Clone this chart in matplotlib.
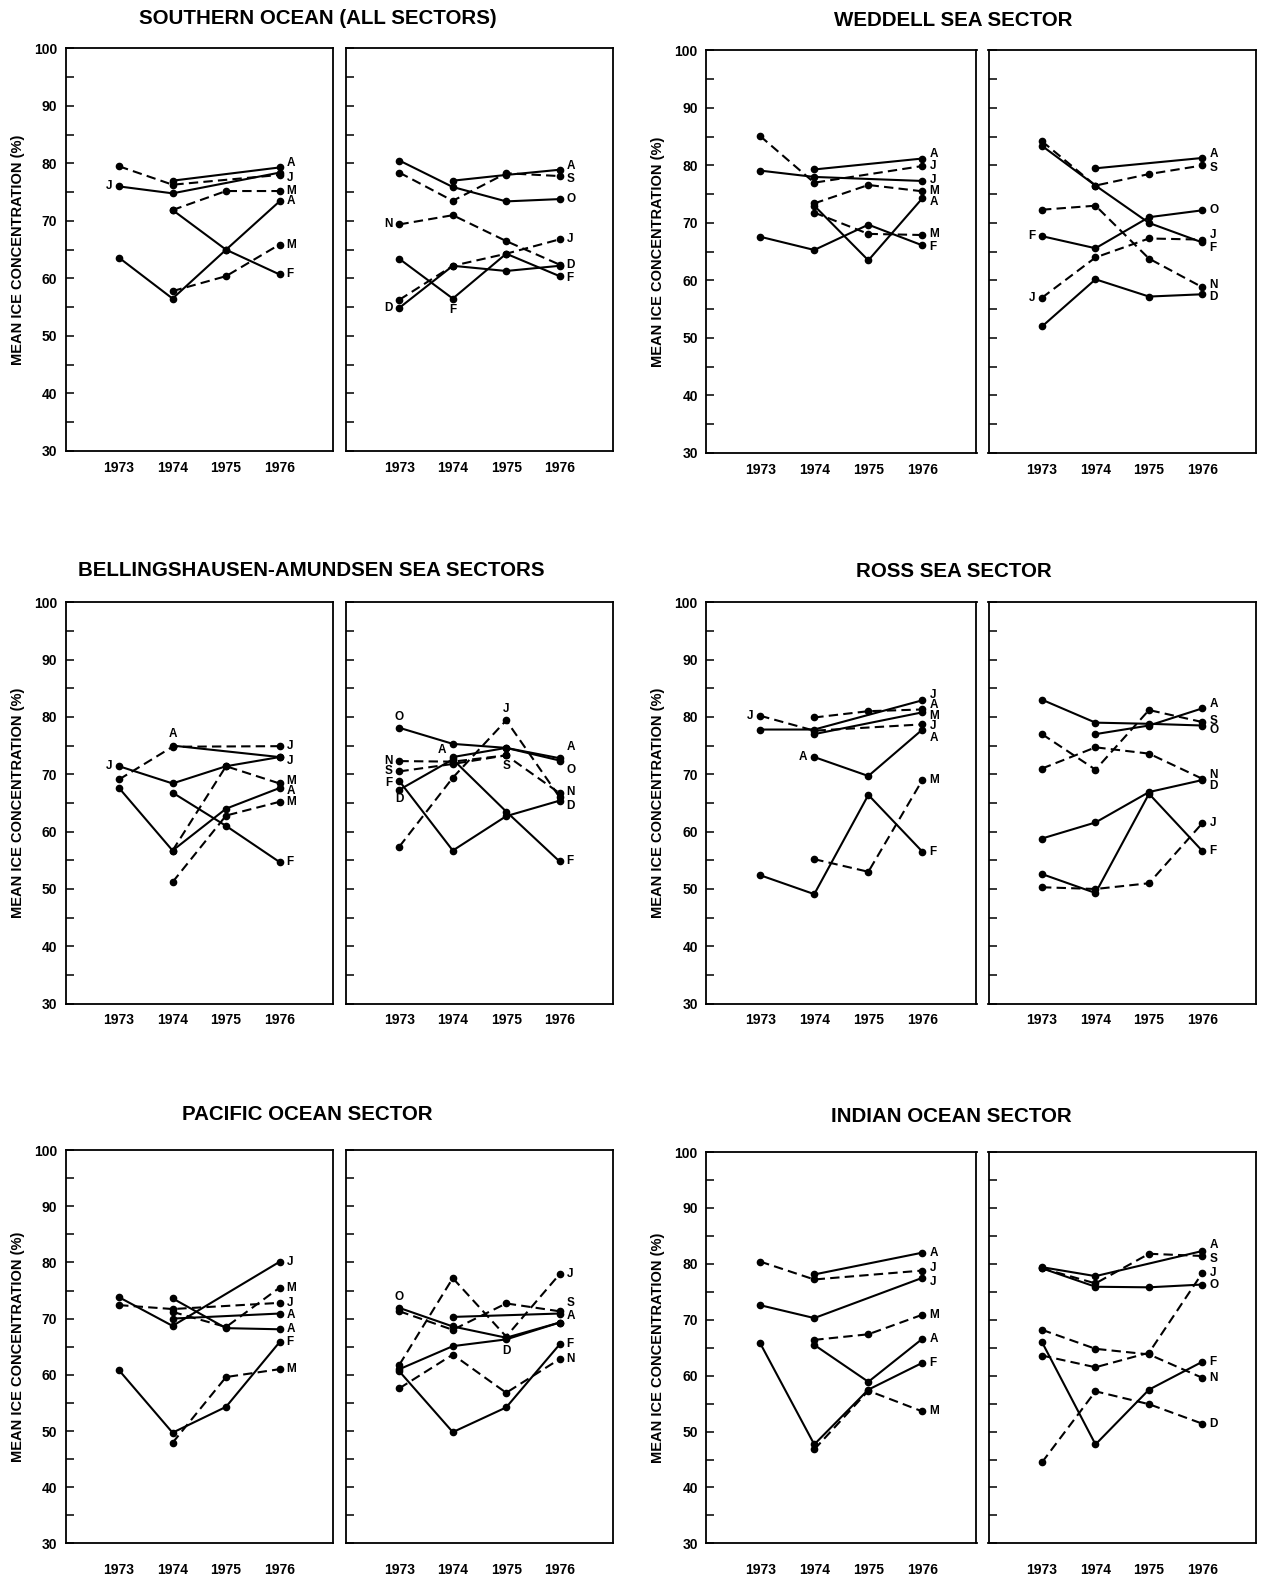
import numpy as np
import matplotlib
matplotlib.use("Agg")
import matplotlib.pyplot as plt

plt.rcParams["font.family"] = ["Liberation Sans", "DejaVu Sans"]

nan = np.nan
YEARS = [1973, 1974, 1975, 1976]
W, H = 1269, 1582

# each panel: rows = monthly series (mean ice concentration, %), dashed flags,
# letter labels as (series, year index, text, dx pt, dy pt)

# --- Southern Ocean (all sectors)
SO_JAN = [[79.5, 76.3, nan, 78.0], [nan, 77.0, nan, 79.3], [76.0, 74.8, nan, 78.4],
          [nan, 71.9, 75.2, 75.2], [nan, 71.9, 65.0, 60.7], [63.6, 56.5, 65.0, 73.4],
          [nan, 57.8, 60.4, 65.9]]
SO_JAN_DASH = [1, 0, 0, 1, 0, 0, 1]
SO_JAN_LAB = [(1, 3, "A", 5, 3), (0, 3, "J", 5, -2), (2, 0, "J", -5, 0), (3, 3, "M", 5, 0),
              (5, 3, "A", 5, 0), (6, 3, "M", 5, 0), (4, 3, "F", 5, 0)]
SO_JUL = [[80.5, 75.9, 73.4, 73.8], [78.4, 73.5, 78.3, 77.8], [nan, 77.0, 78.0, 78.9],
          [69.4, 71.0, 66.5, 62.4], [63.4, 56.5, 64.3, 60.4], [56.3, 62.2, 64.3, 66.8],
          [54.9, 62.2, 61.3, 62.2]]
SO_JUL_DASH = [0, 1, 0, 1, 0, 1, 0]
SO_JUL_LAB = [(2, 3, "A", 5, 3), (1, 3, "S", 5, -2), (0, 3, "O", 5, 0), (5, 3, "J", 5, 0),
              (3, 3, "D", 5, 0), (4, 3, "F", 5, -1), (3, 0, "N", -5, 0), (6, 0, "D", -5, 0),
              (4, 1, "F", 0, -8)]

# --- Weddell Sea sector
WS_JAN = [[85.1, 77.0, nan, 79.9], [nan, 79.3, nan, 81.2], [79.1, 78.0, nan, 77.3],
          [nan, 73.4, 76.6, 75.5], [nan, 73.0, 63.5, 74.3], [nan, 71.8, 68.1, 67.9],
          [67.6, 65.3, 69.7, 66.1]]
WS_JAN_DASH = [1, 0, 0, 1, 0, 1, 0]
WS_JAN_LAB = [(1, 3, "A", 5, 3), (0, 3, "J", 5, 0), (2, 3, "J", 5, 1), (3, 3, "M", 5, 0),
              (4, 3, "A", 5, -3), (5, 3, "M", 5, 1), (6, 3, "F", 5, -1)]
WS_JUL = [[83.4, 76.5, 70.0, 66.6], [84.2, 76.5, 78.5, 80.0], [nan, 79.5, nan, 81.3],
          [67.7, 65.6, 71.0, 72.2], [72.3, 73.0, 63.8, 58.8], [52.0, 60.2, 57.2, 57.6],
          [57.0, 64.0, 67.3, 67.1]]
WS_JUL_DASH = [0, 1, 0, 0, 1, 0, 1]
WS_JUL_LAB = [(2, 3, "A", 5, 3), (1, 3, "S", 5, -2), (3, 3, "O", 5, 0), (6, 3, "J", 5, 3),
              (0, 3, "F", 5, -4), (4, 3, "N", 5, 2), (5, 3, "D", 5, -2), (3, 0, "F", -5, 0),
              (6, 0, "J", -5, 0)]

# --- Bellingshausen-Amundsen Sea sectors
BA_JAN = [[69.1, 74.8, nan, 74.9], [nan, 75.0, nan, 73.0], [71.4, 68.4, 71.4, 73.0],
          [nan, 56.7, 71.4, 68.4], [67.6, 56.7, 64.0, 67.6], [nan, 66.8, 61.0, 54.7],
          [nan, 51.2, 62.8, 65.2]]
BA_JAN_DASH = [1, 0, 0, 1, 0, 0, 1]
BA_JAN_LAB = [(0, 3, "J", 5, 0), (2, 3, "J", 5, -3), (3, 3, "M", 5, 2), (4, 3, "A", 5, -2),
              (6, 3, "M", 5, 0), (5, 3, "F", 5, 0), (2, 0, "J", -5, 0), (1, 1, "A", 0, 8)]
BA_JUL = [[78.1, 75.3, 74.6, 72.4], [nan, 73.0, 74.6, 72.8], [72.3, 72.2, 73.3, 66.7],
          [70.5, 71.8, 73.3, nan], [57.4, 69.4, 79.4, 66.0], [68.8, 56.7, 62.7, 65.4],
          [67.3, 72.6, 63.5, 54.8]]
BA_JUL_DASH = [0, 0, 1, 1, 1, 0, 0]
BA_JUL_LAB = [(1, 3, "A", 5, 8), (0, 3, "O", 5, -7), (2, 3, "N", 5, 1), (5, 3, "D", 5, -4),
              (6, 3, "F", 5, 0), (0, 0, "O", 0, 8), (2, 0, "N", -5, 0), (3, 0, "S", -5, 0),
              (5, 0, "F", -5, -1), (6, 0, "D", 0, -7), (1, 1, "A", -5, 5), (4, 2, "J", 0, 8),
              (3, 2, "S", 0, -8)]

# --- Ross Sea sector
RS_JAN = [[80.2, 77.6, nan, 78.7], [77.8, 77.8, nan, 82.9], [nan, 79.9, 81.0, 81.3],
          [nan, 77.0, nan, 80.8], [nan, 73.0, 69.7, 77.8], [52.4, 49.1, 66.4, 56.5],
          [nan, 55.2, 53.0, 69.0]]
RS_JAN_DASH = [1, 0, 1, 0, 0, 0, 1]
RS_JAN_LAB = [(1, 3, "J", 5, 4), (2, 3, "A", 5, 3), (3, 3, "M", 5, -3), (0, 3, "J", 5, -1),
              (4, 3, "A", 5, -6), (5, 3, "F", 5, 0), (6, 3, "M", 5, 0), (0, 0, "J", -5, 0),
              (4, 1, "A", -5, 0)]
RS_JUL = [[83.0, 79.0, 78.8, 78.5], [nan, 77.0, 78.5, 81.5], [77.0, 70.8, 81.2, 79.1],
          [71.0, 74.7, 73.6, 69.2], [58.8, 61.6, 66.9, 69.0], [52.6, 49.3, 66.6, 56.6],
          [50.3, 50.0, 51.0, 61.5]]
RS_JUL_DASH = [0, 0, 1, 1, 0, 0, 1]
RS_JUL_LAB = [(1, 3, "A", 5, 3), (2, 3, "S", 5, 1), (0, 3, "O", 5, -3), (3, 3, "N", 5, 3),
              (4, 3, "D", 5, -4), (6, 3, "J", 5, 0), (5, 3, "F", 5, 0)]

# --- Pacific Ocean sector
PO_JAN = [[73.8, 68.7, nan, 80.1], [72.4, 71.7, nan, 72.8], [nan, 73.6, 68.3, 68.1],
          [nan, 70.0, nan, 70.9], [nan, 71.2, 68.5, 75.5], [60.8, 49.7, 54.3, 65.8],
          [nan, 47.9, 59.6, 61.0]]
PO_JAN_DASH = [0, 1, 0, 0, 1, 0, 1]
PO_JAN_LAB = [(0, 3, "J", 5, 0), (4, 3, "M", 5, 0), (1, 3, "J", 5, 0), (3, 3, "A", 5, -1),
              (2, 3, "A", 5, 0), (5, 3, "F", 5, 0), (6, 3, "M", 5, 0)]
PO_JUL = [[61.8, 77.2, 66.8, 77.9], [71.9, 68.6, 66.6, 69.3], [71.3, 68.0, 72.7, 71.3],
          [nan, 70.3, nan, 70.9], [61.0, 65.1, 66.3, 69.3], [57.6, 63.6, 56.8, 62.8],
          [60.6, 49.8, 54.2, 65.4]]
PO_JUL_DASH = [1, 0, 1, 0, 0, 1, 0]
PO_JUL_LAB = [(0, 3, "J", 5, 0), (2, 3, "S", 5, 6), (3, 3, "A", 5, -2), (6, 3, "F", 5, 0),
              (5, 3, "N", 5, 0), (4, 2, "D", 0, -8), (1, 0, "O", 0, 8)]

# --- Indian Ocean sector
IO_JAN = [[80.4, 77.2, nan, 78.8], [nan, 78.1, nan, 82.0], [72.6, 70.3, nan, 77.5],
          [nan, 66.4, 67.4, 70.9], [nan, 65.5, 58.9, 66.6], [65.8, 47.7, 57.5, 62.3],
          [nan, 46.8, 57.3, 53.6]]
IO_JAN_DASH = [1, 0, 0, 1, 0, 0, 1]
IO_JAN_LAB = [(1, 3, "A", 5, 0), (0, 3, "J", 5, 2), (2, 3, "J", 5, -3), (3, 3, "M", 5, 0),
              (4, 3, "A", 5, 0), (5, 3, "F", 5, 0), (6, 3, "M", 5, 0)]
IO_JUL = [[79.4, 77.8, nan, 82.3], [79.2, 76.5, 81.8, 81.4], [79.2, 75.9, 75.8, 76.3],
          [63.6, 61.5, 64.1, 78.4], [68.2, 64.8, 63.8, 59.6], [66.0, 47.7, 57.5, 62.5],
          [44.5, 57.2, 54.9, 51.4]]
IO_JUL_DASH = [0, 1, 0, 1, 1, 0, 1]
IO_JUL_LAB = [(0, 3, "A", 5, 4), (1, 3, "S", 5, -2), (3, 3, "J", 5, 0), (2, 3, "O", 5, 0),
              (5, 3, "F", 5, 0), (4, 3, "N", 5, 0), (6, 3, "D", 5, 0)]

TITLES = ["SOUTHERN OCEAN (ALL SECTORS)", "WEDDELL SEA SECTOR",
          "BELLINGSHAUSEN-AMUNDSEN SEA SECTORS", "ROSS SEA SECTOR",
          "PACIFIC OCEAN SECTOR", "INDIAN OCEAN SECTOR"]
GROUPS = [(SO_JAN, SO_JAN_DASH, SO_JAN_LAB, SO_JUL, SO_JUL_DASH, SO_JUL_LAB),
          (WS_JAN, WS_JAN_DASH, WS_JAN_LAB, WS_JUL, WS_JUL_DASH, WS_JUL_LAB),
          (BA_JAN, BA_JAN_DASH, BA_JAN_LAB, BA_JUL, BA_JUL_DASH, BA_JUL_LAB),
          (RS_JAN, RS_JAN_DASH, RS_JAN_LAB, RS_JUL, RS_JUL_DASH, RS_JUL_LAB),
          (PO_JAN, PO_JAN_DASH, PO_JAN_LAB, PO_JUL, PO_JUL_DASH, PO_JUL_LAB),
          (IO_JAN, IO_JAN_DASH, IO_JAN_LAB, IO_JUL, IO_JUL_DASH, IO_JUL_LAB)]

# layout in pixels: panel x spans per column, (top, bottom) per group, title centres
COL_X = [[(65.6, 333.0), (346.0, 613.0)], [(706.1, 976.5), (988.5, 1256.0)]]
GROUP_Y = [(48.4, 451.0), (50.4, 453.0), (602.2, 1003.7), (602.2, 1003.7),
           (1150.0, 1543.4), (1152.0, 1543.4)]
TITLE_XY = [(318, 18), (953, 20), (311, 571), (954, 572), (307, 1114), (951, 1117)]
XPAD = [7, 7, 7, 7, 14, 14]


def draw_panel(ax, vals, dash, labs, first, xpad):
    x = np.array(YEARS, dtype=float)
    for v, d in zip(vals, dash):
        v = np.array(v, dtype=float)
        ok = ~np.isnan(v)
        ax.plot(x[ok], v[ok], color="black", lw=1.5, marker="o", ms=4.5,
                ls=(0, (4.5, 2.5)) if d else "-", solid_capstyle="round")
    for si, yi, txt, dx, dy in labs:
        ha = "left" if dx > 0 else ("right" if dx < 0 else "center")
        ax.annotate(txt, (YEARS[yi], vals[si][yi]), xytext=(dx, dy),
                    textcoords="offset points", ha=ha, va="center",
                    fontsize=8.5, fontweight="bold")
    ax.set_xlim(1972, 1977)
    ax.set_ylim(30, 100)
    ax.set_xticks(YEARS)
    ax.set_xticklabels([str(y) for y in YEARS], fontsize=10, fontweight="bold")
    ax.set_yticks(range(30, 101, 10))
    ax.set_yticks(range(35, 100, 10), minor=True)
    ax.tick_params(axis="x", length=0, pad=xpad)
    ax.tick_params(axis="y", which="both", direction="in", length=6, width=1.1, pad=6)
    if first:
        ax.set_yticklabels([str(t) for t in range(30, 101, 10)], fontsize=10,
                           fontweight="bold")
    else:
        ax.tick_params(axis="y", labelleft=False)
    for s in ax.spines.values():
        s.set_linewidth(1.3)


fig = plt.figure(figsize=(W / 100, H / 100), dpi=100)
for g, (jan, jand, janl, jul, juld, jull) in enumerate(GROUPS):
    top, bot = GROUP_Y[g]
    for p, (vals, dash, labs) in enumerate([(jan, jand, janl), (jul, juld, jull)]):
        x0, x1 = COL_X[g % 2][p]
        ax = fig.add_axes([x0 / W, 1 - bot / H, (x1 - x0) / W, (bot - top) / H])
        draw_panel(ax, vals, dash, labs, p == 0, XPAD[g])
    tx, ty = TITLE_XY[g]
    fig.text(tx / W, 1 - ty / H, TITLES[g], ha="center", va="center",
             fontsize=14.8, fontweight="bold")
    ylx = 18 if g % 2 == 0 else 658
    fig.text(ylx / W, 1 - (top + bot) / 2 / H, "MEAN ICE CONCENTRATION (%)",
             rotation=90, ha="center", va="center", fontsize=10.5, fontweight="bold")

fig.savefig("out.png", dpi=100)
